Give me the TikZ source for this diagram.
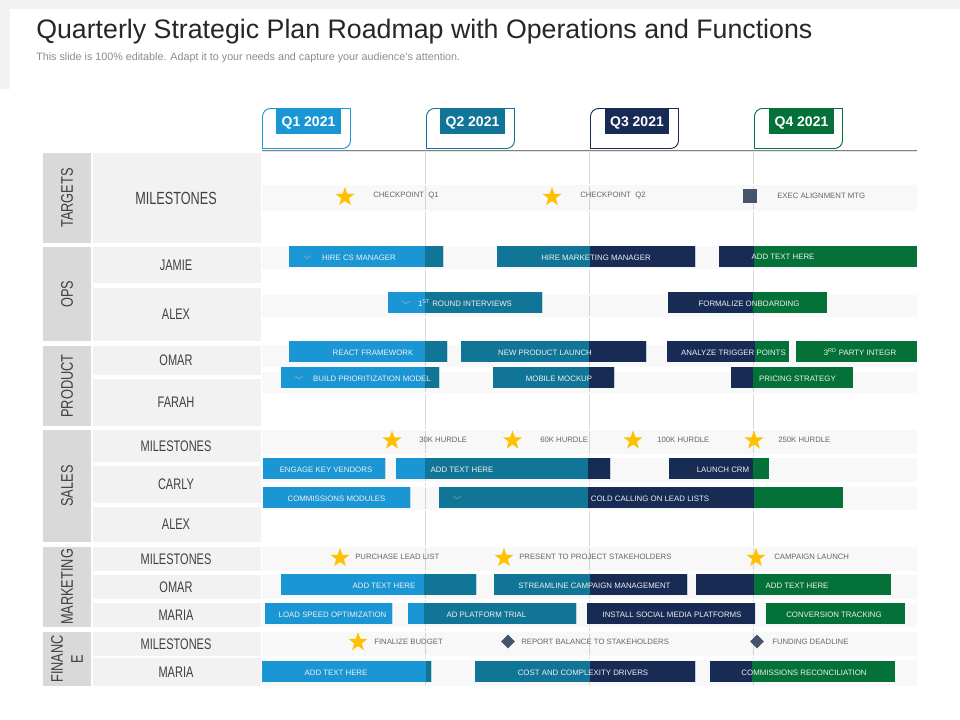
\documentclass[tikz,border=0pt]{standalone}
\usepackage{fontspec}
\setmainfont{Liberation Sans}
\newfontfamily\narrowf[FakeStretch=0.72]{Liberation Sans}
\newfontfamily\grpf[FakeStretch=0.76]{Liberation Sans}
\usetikzlibrary{shapes.geometric}
\definecolor{qa}{HTML}{1A96D5}
\definecolor{qb}{HTML}{107596}
\definecolor{qc}{HTML}{172B54}
\definecolor{qd}{HTML}{047238}
\definecolor{grpfill}{HTML}{D9D9D9}
\definecolor{rowfill}{HTML}{F2F2F2}
\definecolor{vline}{HTML}{D9D9D9}
\definecolor{labelc}{HTML}{404040}
\definecolor{msc}{HTML}{666666}
\definecolor{starc}{HTML}{FFC000}
\definecolor{slatec}{HTML}{44546A}
\newcommand{\px}[1]{\fontsize{\fpeval{0.75*#1}}{\fpeval{0.9*#1}}\selectfont}
\tikzset{
  x=0.75pt,y=-0.75pt,
  grpbox/.style={fill=grpfill},
  rowbox/.style={fill=rowfill},
  grptext/.style={inner sep=0,rotate=90,text=labelc,font=\grpf\px{16.8},align=center},
  rowtext/.style={inner sep=0,text=labelc,font=\narrowf\px{15.3}},
  bartext/.style={inner sep=0,text=white!94!black,font=\px{7.85}},
  mstext/.style={inner sep=0,anchor=west,text=msc,font=\px{7.75}},
  staricon/.style={star,star points=5,star point ratio=2.5,fill=starc,inner sep=0,minimum size=15pt},
  diaicon/.style={diamond,fill=slatec,inner sep=0,minimum size=10.5pt},
  qtext/.style={inner sep=0,text=white,font=\bfseries\px{14}},
  chev/.style={draw=#1,line width=0.8pt,line cap=round,opacity=0.55},
}
% group label, row label
\newcommand{\grp}[5]{\fill[grpbox] (43,#2) rectangle (91,#3);
  \node[grptext] (#1) at (67,#4) {#5};}
\newcommand{\rowl}[5]{\fill[rowbox] (92.5,#2) rectangle (261,#3);
  \node[rowtext,#5] (#1) at (176,{(#2+#3)/2}) {#4};}
% stripe
\newcommand{\band}[2]{\draw[white,line width=1.3pt] (262,#1) rectangle (917,#2);
  \fill[black,opacity=0.028] (262,#1) rectangle (917,#2);}
% bar: name x0 x1 y0 y1 s1 s2 s3 textx text
\newcommand{\gbar}[9]{\begin{scope}
  \clip (#2,#4) rectangle (#3,#5);
  \fill[qa] (#2,#4) rectangle (#6,#5);
  \fill[qb] (#6,#4) rectangle (#7,#5);
  \fill[qc] (#7,#4) rectangle (#8,#5);
  \fill[qd] (#8,#4) rectangle (#3,#5);
  \end{scope}
  \node[bartext] (#1) at (#9,{(#4+#5)/2+0.8}) }
\newcommand{\qtab}[8]{\draw[#1,line width=0.7pt,fill=white] (#2,148.5) [rounded corners=6pt] -- (#2,108.5) [sharp corners] -- (#3,108.5) [rounded corners=6pt] -- (#3,148.5) [sharp corners] -- cycle;
  \fill[#1] (#4,108) rectangle (#5,134);
  \node[qtext] (#6) at ({(#4+#5)/2},123) {#7};}
\newcommand{\chevron}[3]{\draw[chev=#3] ({#1-3.5},{#2-1.2}) -- (#1,{#2+1.2}) -- ({#1+3.5},{#2-1.2});}
\begin{document}
\begin{tikzpicture}
\useasboundingbox (0,0) rectangle (960,720);
\fill[white] (0,0) rectangle (960,720);
% slide corner
\fill[rowfill] (0,0) rectangle (960,9);
\fill[rowfill] (0,0) rectangle (10,89);
\node[inner sep=0,anchor=west,text=black!85,font=\px{26.75}] (title) at (36,32) {Quarterly Strategic Plan Roadmap with Operations and Functions};
\node[inner sep=0,anchor=west,text=black!45,font=\px{10.75}] (subtitle) at (36,58) {This slide is 100\% editable. Adapt it to your needs and capture your audience's attention.};
% quarter lines
\foreach \x in {425.5,589.5,753.5} \draw[vline,line width=0.9pt] (\x,151) -- (\x,686);
% group and row columns
\grp{gtargets}{153}{243}{198}{TARGETS}
\grp{gops}{247}{341}{294}{OPS}
\grp{gproduct}{345.5}{426}{386}{PRODUCT}
\grp{gsales}{430}{542}{486}{SALES}
\grp{gmkt}{547}{627}{587}{MARKETING}
\grp{gfin}{632}{686}{659}{FINANC\\E}
\rowl{r1}{153}{243}{MILESTONES}{font=\narrowf\px{17.6}}
\rowl{r2}{247}{283}{JAMIE}{}
\rowl{r3}{288}{341}{ALEX}{}
\rowl{r4}{345.5}{375}{OMAR}{}
\rowl{r5}{379}{426}{FARAH}{}
\rowl{r6}{430}{462}{MILESTONES}{}
\rowl{r7}{466}{503}{CARLY}{}
\rowl{r8}{507}{542}{ALEX}{}
\rowl{r9}{547}{571}{MILESTONES}{}
\rowl{r10}{575}{599}{OMAR}{}
\rowl{r11}{603}{627}{MARIA}{}
\rowl{r12}{632}{656}{MILESTONES}{}
\rowl{r13}{658}{686}{MARIA}{}
% stripes
\band{185}{211}\band{247}{269}\band{295}{317}\band{345}{367}\band{372}{393}\band{430}{454}
\band{458}{482}\band{487}{510}\band{547}{571}\band{575}{599}\band{603}{627}\band{632}{656}\band{660}{686}
% header rule and tabs
\fill[black!10] (262,151) rectangle (917,152.5);
\draw[black!50,line width=0.9pt] (262,150.5) -- (917,150.5);
\qtab{qa}{262.5}{350.5}{276}{341}{q1}{Q1 2021}{}
\qtab{qb}{426.5}{514.5}{440}{505}{q2}{Q2 2021}{}
\qtab{qc}{590.5}{678.5}{605}{669}{q3}{Q3 2021}{}
\qtab{qd}{754.5}{842.5}{769}{834}{q4}{Q4 2021}{}
% targets
\node[staricon] (s1) at (345,197) {};
\node[mstext] (m1) at (373,196) {CHECKPOINT\ \ Q1};
\node[staricon] (s2) at (552,197) {};
\node[mstext] (m2) at (580,196) {CHECKPOINT\ \ Q2};
\node[fill=slatec,inner sep=0,minimum size=10.5pt] (s3) at (750,196) {};
\node[mstext] (m3) at (777,196) {EXEC ALIGNMENT MTG};
% ops
\gbar{b1}{289}{443}{246}{267}{425}{500}{600}{359}{HIRE CS MANAGER};
\chevron{307}{257}{black!30}
\gbar{b2}{497}{695}{246}{267}{400}{590}{800}{596}{HIRE MARKETING MANAGER};
\gbar{b3}{719}{917}{246}{267}{400}{500}{754}{783}{ADD TEXT HERE};
\gbar{b4}{388}{542}{292}{313}{425}{600}{700}{465}{1\textsuperscript{ST} ROUND INTERVIEWS};
\chevron{406}{302.5}{black!30}
\gbar{b5}{668}{827}{292}{313}{400}{500}{753}{749}{FORMALIZE ONBOARDING};
% product
\gbar{b6}{289}{447}{341}{362}{425}{500}{600}{373}{REACT FRAMEWORK};
\gbar{b7}{461}{646}{341}{362}{400}{589}{800}{545}{NEW PRODUCT LAUNCH};
\gbar{b8}{667}{789}{341}{362}{400}{500}{755}{733.5}{ANALYZE TRIGGER POINTS};
\gbar{b9}{796}{917}{341}{362}{400}{500}{600}{860}{3\textsuperscript{RD} PARTY INTEGR};
\gbar{b10}{281}{439}{367}{388}{425}{500}{600}{372}{BUILD PRIORITIZATION MODEL};
\chevron{299}{377.5}{black!30}
\gbar{b11}{493}{614}{367}{388}{400}{589}{800}{559}{MOBILE MOCKUP};
\gbar{b12}{731}{853}{367}{388}{400}{500}{753}{797.5}{PRICING STRATEGY};
% sales
\node[staricon] (s4) at (392,440.5) {};
\node[mstext] (m4) at (419,440) {30K HURDLE};
\node[staricon] (s5) at (512.5,440.5) {};
\node[mstext] (m5) at (540,440) {60K HURDLE};
\node[staricon] (s6) at (633,440.5) {};
\node[mstext] (m6) at (657,440) {100K HURDLE};
\node[staricon] (s7) at (754,440.5) {};
\node[mstext] (m7) at (778,440) {250K HURDLE};
\gbar{b13}{263}{385}{458}{479}{425}{500}{600}{326}{ENGAGE KEY VENDORS};
\gbar{b14}{396}{610}{458}{479}{425}{588}{800}{462}{ADD TEXT HERE};
\gbar{b15}{669}{769}{458}{479}{400}{500}{753}{723}{LAUNCH CRM};
\gbar{b16}{263}{410}{487}{508}{425}{500}{600}{336.5}{COMMISSIONS MODULES};
\gbar{b17}{439}{843}{487}{508}{400}{588}{754}{650}{COLD CALLING ON LEAD LISTS};
\chevron{457}{497.5}{black!35}
% marketing
\node[staricon] (s8) at (340,558) {};
\node[mstext] (m8) at (355,557) {PURCHASE LEAD LIST};
\node[staricon] (s9) at (504,558) {};
\node[mstext] (m9) at (519,557) {PRESENT TO PROJECT STAKEHOLDERS};
\node[staricon] (s10) at (756,558) {};
\node[mstext] (m10) at (774,557) {CAMPAIGN LAUNCH};
\gbar{b18}{281}{476}{574}{595}{424}{500}{600}{384}{ADD TEXT HERE};
\gbar{b19}{494}{687}{574}{595}{400}{590}{800}{594.5}{STREAMLINE CAMPAIGN MANAGEMENT};
\gbar{b20}{696}{891}{574}{595}{400}{500}{754}{797}{ADD TEXT HERE};
\gbar{b21}{265}{392}{603}{624}{425}{500}{600}{332.5}{LOAD SPEED OPTIMIZATION};
\gbar{b22}{408}{576}{603}{624}{424}{600}{700}{486.5}{AD PLATFORM TRIAL};
\gbar{b23}{587}{755}{603}{624}{400}{500}{754.5}{672}{INSTALL SOCIAL MEDIA PLATFORMS};
\gbar{b24}{766}{905}{603}{624}{400}{500}{600}{834}{CONVERSION TRACKING};
% finance
\node[staricon] (s11) at (358,642) {};
\node[mstext] (m11) at (374,642) {FINALIZE BUDGET};
\node[diaicon] (d1) at (508,641.5) {};
\node[mstext] (m12) at (521,642) {REPORT BALANCE TO STAKEHOLDERS};
\node[diaicon] (d2) at (757,641.5) {};
\node[mstext] (m13) at (772,642) {FUNDING DEADLINE};
\gbar{b25}{262}{431}{661}{682}{426}{500}{600}{336}{ADD TEXT HERE};
\gbar{b26}{475}{695}{661}{682}{400}{590}{800}{583}{COST AND COMPLEXITY DRIVERS};
\gbar{b27}{710}{895}{661}{682}{400}{500}{752}{804}{COMMISSIONS RECONCILIATION};
\end{tikzpicture}
\end{document}
